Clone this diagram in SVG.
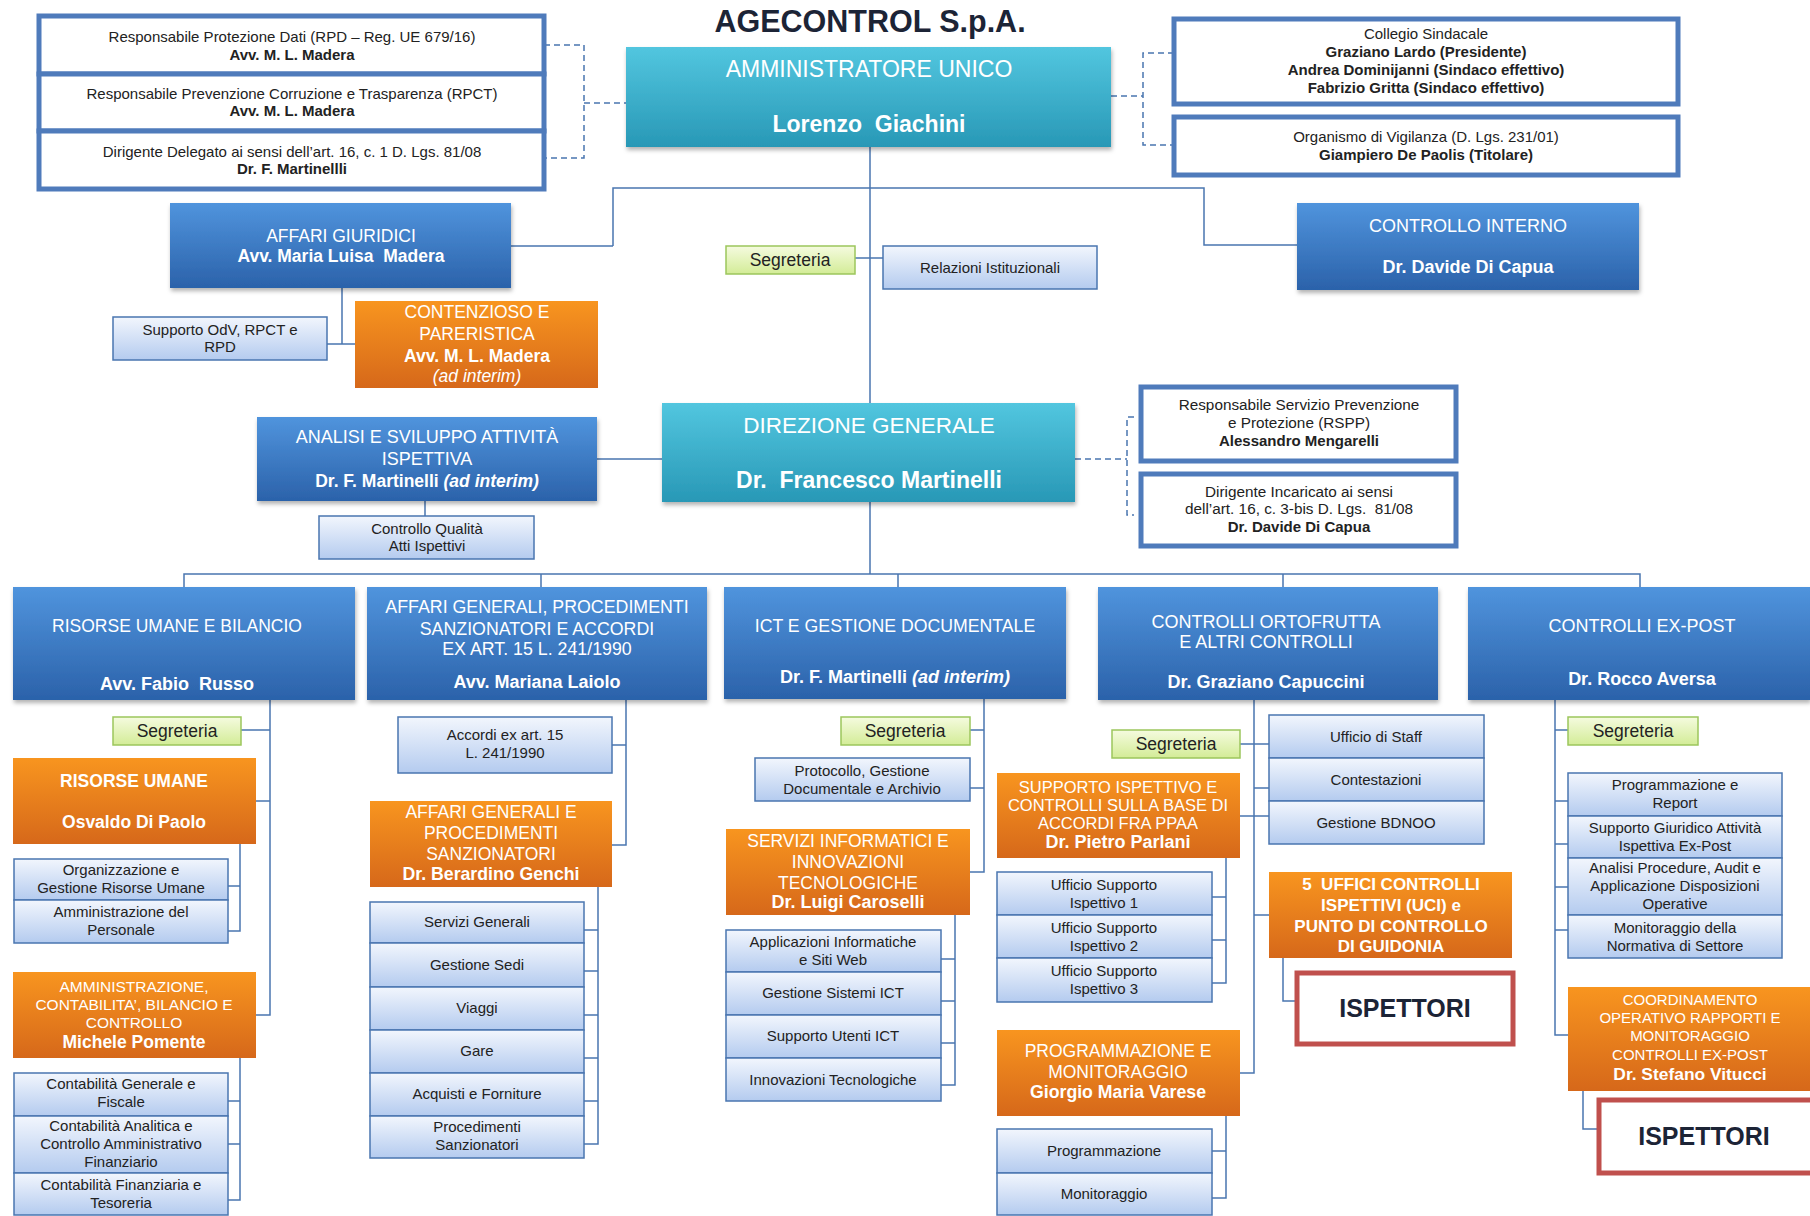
<svg xmlns="http://www.w3.org/2000/svg" width="1810" height="1216" viewBox="0 0 1810 1216" font-family="'Liberation Sans', Arial, sans-serif">
<defs>
<linearGradient id="gBlue" x1="0" y1="0" x2="0" y2="1"><stop offset="0" stop-color="#5094dd"/><stop offset="1" stop-color="#2b62aa"/></linearGradient>
<linearGradient id="gTeal" x1="0" y1="0" x2="0" y2="1"><stop offset="0" stop-color="#52c6df"/><stop offset="1" stop-color="#2898b6"/></linearGradient>
<linearGradient id="gOrange" x1="0" y1="0" x2="0" y2="1"><stop offset="0" stop-color="#f8951f"/><stop offset="1" stop-color="#d6681a"/></linearGradient>
<linearGradient id="gLight" x1="0" y1="0" x2="0" y2="1"><stop offset="0" stop-color="#f2f6fd"/><stop offset="1" stop-color="#b4cbef"/></linearGradient>
<linearGradient id="gGreen" x1="0" y1="0" x2="0" y2="1"><stop offset="0" stop-color="#f5fbdf"/><stop offset="1" stop-color="#d3ec97"/></linearGradient>
<filter id="sh" x="-5%" y="-5%" width="110%" height="120%"><feDropShadow dx="1" dy="3" stdDeviation="2" flood-color="#000" flood-opacity="0.3"/></filter>
</defs>
<style>
.blue{fill:url(#gBlue);filter:url(#sh)}
.teal{fill:url(#gTeal);filter:url(#sh)}
.orange{fill:url(#gOrange)}
.light{fill:url(#gLight);stroke:#4a76b0;stroke-width:1.5}
.green{fill:url(#gGreen);stroke:#9cc65c;stroke-width:1.5}
.frame{fill:#fff;stroke:#4f7bbb;stroke-width:5}
.red{fill:#fff;stroke:#c0504d;stroke-width:5}
.w{fill:#fff;text-anchor:middle}
.d{fill:#222;text-anchor:middle}
.b{font-weight:bold}
.i{font-style:italic}
.conn{fill:none;stroke:#4a76b0;stroke-width:1.5}
.dash{fill:none;stroke:#4a76b0;stroke-width:1.5;stroke-dasharray:6 4}
</style>
<rect width="1810" height="1216" fill="#fff"/>

<g id="connectors">
<path class="dash" d="M544 45H584V158H544M584 103H626"/>
<path class="dash" d="M1111 96H1143M1174 53H1143V145H1174"/>
<path class="dash" d="M1075 459H1127M1134 417H1127V515H1134"/>
<path class="conn" d="M870 147V403M613 246V188H1204V245H1297M613 246H511M855 258H883"/>
<path class="conn" d="M342 288V344M327 344H355"/>
<path class="conn" d="M597 459H662M425 501V516"/>
<path class="conn" d="M870 502V574M184 587V574H1640V587M541 574V587M898 574V587M1283 574V587"/>
<path class="conn" d="M270 700V1015H256M241 730H270M256 801H270M240 844V931H228M228 886H240"/>
<path class="conn" d="M240 1058V1200H228M228 1101H240M228 1144H240"/>
<path class="conn" d="M626 700V845H612M612 745H626"/>
<path class="conn" d="M584 930H598M598 887V1144H584M584 971H598M584 1015H598M584 1058H598M584 1101H598"/>
<path class="conn" d="M984 699V872H970M970 730H984M970 788H984"/>
<path class="conn" d="M941 959H955M955 915V1085H941M941 1001H955M941 1043H955"/>
<path class="conn" d="M1254 700V1073H1240M1240 744H1269M1254 788H1269M1240 816H1269M1254 915H1269"/>
<path class="conn" d="M1212 897H1226M1226 858V983H1212M1212 940H1226"/>
<path class="conn" d="M1212 1151H1226M1226 1116V1198H1212"/>
<path class="conn" d="M1283 958V1001H1295"/>
<path class="conn" d="M1555 700V1035H1568M1555 730H1568M1555 801H1568M1555 844H1568M1555 887H1568M1555 930H1568"/>
<path class="conn" d="M1583 1091V1129H1597"/>
</g>

<text x="870" y="32" font-size="30.5" font-weight="bold" fill="#1c2436" text-anchor="middle">AGECONTROL S.p.A.</text>

<g id="n-rpd">
<rect class="frame" x="39" y="16" width="505" height="58"/>
<text class="d" x="292" y="42" font-size="15">Responsabile Protezione Dati (RPD – Reg. UE 679/16)</text>
<text class="d b" x="292" y="60" font-size="15">Avv. M. L. Madera</text>
</g>
<g id="n-rpct">
<rect class="frame" x="39" y="74" width="505" height="57"/>
<text class="d" x="292" y="99" font-size="15">Responsabile Prevenzione Corruzione e Trasparenza (RPCT)</text>
<text class="d b" x="292" y="116" font-size="15">Avv. M. L. Madera</text>
</g>
<g id="n-dirdel">
<rect class="frame" x="39" y="131" width="505" height="58"/>
<text class="d" x="292" y="157" font-size="15">Dirigente Delegato ai sensi dell’art. 16, c. 1 D. Lgs. 81/08</text>
<text class="d b" x="292" y="174" font-size="15">Dr. F. Martinellli</text>
</g>

<g id="n-au">
<rect class="teal" x="626" y="47" width="485" height="100"/>
<text class="w" x="869" y="77" font-size="23">AMMINISTRATORE UNICO</text>
<text class="w b" x="869" y="132" font-size="23">Lorenzo&#160; Giachini</text>
</g>

<g id="n-collegio">
<rect class="frame" x="1174" y="19" width="504" height="85"/>
<text class="d" x="1426" y="39" font-size="15">Collegio Sindacale</text>
<text class="d b" x="1426" y="57" font-size="15">Graziano Lardo (Presidente)</text>
<text class="d b" x="1426" y="75" font-size="15">Andrea Dominijanni (Sindaco effettivo)</text>
<text class="d b" x="1426" y="93" font-size="15">Fabrizio Gritta (Sindaco effettivo)</text>
</g>
<g id="n-odv">
<rect class="frame" x="1174" y="117" width="504" height="58"/>
<text class="d" x="1426" y="142" font-size="15">Organismo di Vigilanza (D. Lgs. 231/01)</text>
<text class="d b" x="1426" y="160" font-size="15">Giampiero De Paolis (Titolare)</text>
</g>

<g id="n-affgiur">
<rect class="blue" x="170" y="203" width="341" height="85"/>
<text class="w" x="341" y="242" font-size="17.5">AFFARI GIURIDICI</text>
<text class="w b" x="341" y="262" font-size="17.5">Avv. Maria Luisa&#160; Madera</text>
</g>
<g id="n-ci">
<rect class="blue" x="1297" y="203" width="342" height="87"/>
<text class="w" x="1468" y="232" font-size="18">CONTROLLO INTERNO</text>
<text class="w b" x="1468" y="273" font-size="18">Dr. Davide Di Capua</text>
</g>
<g id="n-segr-au">
<rect class="green" x="726" y="246" width="129" height="28"/>
<text class="d" x="790" y="266" font-size="17.5">Segreteria</text>
</g>
<g id="n-relist">
<rect class="light" x="883" y="246" width="214" height="43"/>
<text class="d" x="990" y="273" font-size="15">Relazioni Istituzionali</text>
</g>
<g id="n-supp-odv">
<rect class="light" x="113" y="317" width="214" height="43"/>
<text class="d" x="220" y="335" font-size="15">Supporto OdV, RPCT e</text>
<text class="d" x="220" y="352" font-size="15">RPD</text>
</g>
<g id="n-contenz">
<rect class="orange" x="355" y="301" width="243" height="87"/>
<text class="w" x="477" y="318" font-size="17.5">CONTENZIOSO E</text>
<text class="w" x="477" y="340" font-size="17.5">PARERISTICA</text>
<text class="w b" x="477" y="362" font-size="17.5">Avv. M. L. Madera</text>
<text class="w i" x="477" y="382" font-size="17.5">(ad interim)</text>
</g>

<g id="n-analisi">
<rect class="blue" x="257" y="417" width="340" height="84"/>
<text class="w" x="427" y="443" font-size="18">ANALISI E SVILUPPO ATTIVITÀ</text>
<text class="w" x="427" y="465" font-size="18">ISPETTIVA</text>
<text class="w b" x="427" y="487" font-size="17.5">Dr. F. Martinelli <tspan class="i">(ad interim)</tspan></text>
</g>
<g id="n-cqai">
<rect class="light" x="319" y="516" width="215" height="43"/>
<text class="d" x="427" y="534" font-size="15">Controllo Qualità</text>
<text class="d" x="427" y="551" font-size="15">Atti Ispettivi</text>
</g>
<g id="n-dg">
<rect class="teal" x="662" y="403" width="413" height="99"/>
<text class="w" x="869" y="433" font-size="22.5">DIREZIONE GENERALE</text>
<text class="w b" x="869" y="488" font-size="23">Dr.&#160; Francesco Martinelli</text>
</g>
<g id="n-rspp">
<rect class="frame" x="1141" y="387" width="315" height="74"/>
<text class="d" x="1299" y="410" font-size="15.3">Responsabile Servizio Prevenzione</text>
<text class="d" x="1299" y="428" font-size="15.3">e Protezione (RSPP)</text>
<text class="d b" x="1299" y="446" font-size="15">Alessandro Mengarelli</text>
</g>
<g id="n-dirinc">
<rect class="frame" x="1141" y="474" width="315" height="72"/>
<text class="d" x="1299" y="497" font-size="15.3">Dirigente Incaricato ai sensi</text>
<text class="d" x="1299" y="514" font-size="15.3">dell’art. 16, c. 3-bis D. Lgs.&#160; 81/08</text>
<text class="d b" x="1299" y="532" font-size="15">Dr. Davide Di Capua</text>
</g>

<g id="n-rub">
<rect class="blue" x="13" y="587" width="342" height="113"/>
<text class="w" x="177" y="632" font-size="17.5">RISORSE UMANE E BILANCIO</text>
<text class="w b" x="177" y="690" font-size="18">Avv. Fabio&#160; Russo</text>
</g>
<g id="n-agps">
<rect class="blue" x="367" y="587" width="340" height="113"/>
<text class="w" x="537" y="613" font-size="17.8">AFFARI GENERALI, PROCEDIMENTI</text>
<text class="w" x="537" y="635" font-size="17.8">SANZIONATORI E ACCORDI</text>
<text class="w" x="537" y="655" font-size="17.8">EX ART. 15 L. 241/1990</text>
<text class="w b" x="537" y="688" font-size="18">Avv. Mariana Laiolo</text>
</g>
<g id="n-ict">
<rect class="blue" x="724" y="587" width="342" height="112"/>
<text class="w" x="895" y="632" font-size="17.7">ICT E GESTIONE DOCUMENTALE</text>
<text class="w b" x="895" y="683" font-size="18">Dr. F. Martinelli <tspan class="i">(ad interim)</tspan></text>
</g>
<g id="n-orto">
<rect class="blue" x="1098" y="587" width="340" height="113"/>
<text class="w" x="1266" y="628" font-size="18">CONTROLLI ORTOFRUTTA</text>
<text class="w" x="1266" y="648" font-size="18">E ALTRI CONTROLLI</text>
<text class="w b" x="1266" y="688" font-size="18">Dr. Graziano Capuccini</text>
</g>
<g id="n-expost">
<rect class="blue" x="1468" y="587" width="342" height="113"/>
<text class="w" x="1642" y="632" font-size="18">CONTROLLI EX-POST</text>
<text class="w b" x="1642" y="685" font-size="18">Dr. Rocco Aversa</text>
</g>

<!-- column 1 -->
<g id="n-segr-rub">
<rect class="green" x="113" y="717" width="128" height="28"/>
<text class="d" x="177" y="737" font-size="17.5">Segreteria</text>
</g>
<g id="n-ru">
<rect class="orange" x="13" y="758" width="243" height="86"/>
<text class="w b" x="134" y="787" font-size="17.5">RISORSE UMANE</text>
<text class="w b" x="134" y="828" font-size="17.5">Osvaldo Di Paolo</text>
</g>
<g id="n-org">
<rect class="light" x="14" y="859" width="214" height="41"/>
<text class="d" x="121" y="875" font-size="15">Organizzazione e</text>
<text class="d" x="121" y="893" font-size="15">Gestione Risorse Umane</text>
</g>
<g id="n-ammpers">
<rect class="light" x="14" y="900" width="214" height="43"/>
<text class="d" x="121" y="917" font-size="15">Amministrazione del</text>
<text class="d" x="121" y="935" font-size="15">Personale</text>
</g>
<g id="n-acbc">
<rect class="orange" x="13" y="972" width="243" height="86"/>
<text class="w" x="134" y="992" font-size="15.5">AMMINISTRAZIONE,</text>
<text class="w" x="134" y="1010" font-size="15.5">CONTABILITA’, BILANCIO E</text>
<text class="w" x="134" y="1028" font-size="15.5">CONTROLLO</text>
<text class="w b" x="134" y="1048" font-size="17.5">Michele Pomente</text>
</g>
<g id="n-cgf">
<rect class="light" x="14" y="1073" width="214" height="43"/>
<text class="d" x="121" y="1089" font-size="15">Contabilità Generale e</text>
<text class="d" x="121" y="1107" font-size="15">Fiscale</text>
</g>
<g id="n-cac">
<rect class="light" x="14" y="1116" width="214" height="57"/>
<text class="d" x="121" y="1131" font-size="15">Contabilità Analitica e</text>
<text class="d" x="121" y="1149" font-size="15">Controllo Amministrativo</text>
<text class="d" x="121" y="1167" font-size="15">Finanziario</text>
</g>
<g id="n-cft">
<rect class="light" x="14" y="1173" width="214" height="42"/>
<text class="d" x="121" y="1190" font-size="15">Contabilità Finanziaria e</text>
<text class="d" x="121" y="1208" font-size="15">Tesoreria</text>
</g>

<!-- column 2 -->
<g id="n-accordi">
<rect class="light" x="398" y="717" width="214" height="56"/>
<text class="d" x="505" y="740" font-size="15">Accordi ex art. 15</text>
<text class="d" x="505" y="758" font-size="15">L. 241/1990</text>
</g>
<g id="n-agp">
<rect class="orange" x="370" y="801" width="242" height="86"/>
<text class="w" x="491" y="818" font-size="17.5">AFFARI GENERALI E</text>
<text class="w" x="491" y="839" font-size="17.5">PROCEDIMENTI</text>
<text class="w" x="491" y="860" font-size="17.5">SANZIONATORI</text>
<text class="w b" x="491" y="880" font-size="17.7">Dr. Berardino Genchi</text>
</g>
<g id="n-servgen"><rect class="light" x="370" y="902" width="214" height="41"/><text class="d" x="477" y="927" font-size="15">Servizi Generali</text></g>
<g id="n-gestsedi"><rect class="light" x="370" y="943" width="214" height="44"/><text class="d" x="477" y="970" font-size="15">Gestione Sedi</text></g>
<g id="n-viaggi"><rect class="light" x="370" y="987" width="214" height="43"/><text class="d" x="477" y="1013" font-size="15">Viaggi</text></g>
<g id="n-gare"><rect class="light" x="370" y="1030" width="214" height="43"/><text class="d" x="477" y="1056" font-size="15">Gare</text></g>
<g id="n-acqfor"><rect class="light" x="370" y="1073" width="214" height="43"/><text class="d" x="477" y="1099" font-size="15">Acquisti e Forniture</text></g>
<g id="n-procsanz"><rect class="light" x="370" y="1116" width="214" height="42"/>
<text class="d" x="477" y="1132" font-size="15">Procedimenti</text>
<text class="d" x="477" y="1150" font-size="15">Sanzionatori</text></g>

<!-- column 3 -->
<g id="n-segr-ict">
<rect class="green" x="841" y="717" width="129" height="28"/>
<text class="d" x="905" y="737" font-size="17.5">Segreteria</text>
</g>
<g id="n-protocollo">
<rect class="light" x="755" y="758" width="215" height="43"/>
<text class="d" x="862" y="776" font-size="15">Protocollo, Gestione</text>
<text class="d" x="862" y="794" font-size="15">Documentale e Archivio</text>
</g>
<g id="n-sit">
<rect class="orange" x="726" y="829" width="244" height="86"/>
<text class="w" x="848" y="847" font-size="17.5">SERVIZI INFORMATICI E</text>
<text class="w" x="848" y="868" font-size="17.5">INNOVAZIONI</text>
<text class="w" x="848" y="889" font-size="17.5">TECNOLOGICHE</text>
<text class="w b" x="848" y="908" font-size="18">Dr. Luigi Caroselli</text>
</g>
<g id="n-appinf"><rect class="light" x="726" y="930" width="215" height="42"/>
<text class="d" x="833" y="947" font-size="15">Applicazioni Informatiche</text>
<text class="d" x="833" y="965" font-size="15">e Siti Web</text></g>
<g id="n-gsict"><rect class="light" x="726" y="972" width="215" height="43"/><text class="d" x="833" y="998" font-size="15">Gestione Sistemi ICT</text></g>
<g id="n-suict"><rect class="light" x="726" y="1015" width="215" height="43"/><text class="d" x="833" y="1041" font-size="15">Supporto Utenti ICT</text></g>
<g id="n-innov"><rect class="light" x="726" y="1058" width="215" height="43"/><text class="d" x="833" y="1085" font-size="15">Innovazioni Tecnologiche</text></g>

<!-- column 4 -->
<g id="n-segr-orto">
<rect class="green" x="1112" y="730" width="128" height="28"/>
<text class="d" x="1176" y="750" font-size="17.5">Segreteria</text>
</g>
<g id="n-staff"><rect class="light" x="1269" y="715" width="215" height="43"/><text class="d" x="1376" y="742" font-size="15">Ufficio di Staff</text></g>
<g id="n-contest"><rect class="light" x="1269" y="758" width="215" height="43"/><text class="d" x="1376" y="785" font-size="15">Contestazioni</text></g>
<g id="n-bdnoo"><rect class="light" x="1269" y="801" width="215" height="43"/><text class="d" x="1376" y="828" font-size="15">Gestione BDNOO</text></g>
<g id="n-suppisp">
<rect class="orange" x="997" y="773" width="243" height="85"/>
<text class="w" x="1118" y="793" font-size="16.5">SUPPORTO ISPETTIVO E</text>
<text class="w" x="1118" y="811" font-size="16.5">CONTROLLI SULLA BASE DI</text>
<text class="w" x="1118" y="829" font-size="16.5">ACCORDI FRA PPAA</text>
<text class="w b" x="1118" y="848" font-size="18">Dr. Pietro Parlani</text>
</g>
<g id="n-usi1"><rect class="light" x="997" y="872" width="215" height="43"/>
<text class="d" x="1104" y="890" font-size="15">Ufficio Supporto</text><text class="d" x="1104" y="908" font-size="15">Ispettivo 1</text></g>
<g id="n-usi2"><rect class="light" x="997" y="915" width="215" height="43"/>
<text class="d" x="1104" y="933" font-size="15">Ufficio Supporto</text><text class="d" x="1104" y="951" font-size="15">Ispettivo 2</text></g>
<g id="n-usi3"><rect class="light" x="997" y="958" width="215" height="44"/>
<text class="d" x="1104" y="976" font-size="15">Ufficio Supporto</text><text class="d" x="1104" y="994" font-size="15">Ispettivo 3</text></g>
<g id="n-progmon">
<rect class="orange" x="997" y="1030" width="243" height="86"/>
<text class="w" x="1118" y="1057" font-size="17.5">PROGRAMMAZIONE E</text>
<text class="w" x="1118" y="1078" font-size="17.5">MONITORAGGIO</text>
<text class="w b" x="1118" y="1098" font-size="17.7">Giorgio Maria Varese</text>
</g>
<g id="n-prog"><rect class="light" x="997" y="1129" width="215" height="44"/><text class="d" x="1104" y="1156" font-size="15">Programmazione</text></g>
<g id="n-mon"><rect class="light" x="997" y="1173" width="215" height="42"/><text class="d" x="1104" y="1199" font-size="15">Monitoraggio</text></g>
<g id="n-uci">
<rect class="orange" x="1269" y="872" width="243" height="86"/>
<text class="w b" x="1391" y="890" font-size="17">5&#160; UFFICI CONTROLLI</text>
<text class="w b" x="1391" y="911" font-size="17">ISPETTIVI (UCI) e</text>
<text class="w b" x="1391" y="932" font-size="17">PUNTO DI CONTROLLO</text>
<text class="w b" x="1391" y="952" font-size="17">DI GUIDONIA</text>
</g>
<g id="n-isp1">
<rect class="red" x="1297" y="973" width="216" height="71"/>
<text x="1405" y="1017" font-size="25" font-weight="bold" fill="#1c2436" text-anchor="middle">ISPETTORI</text>
</g>

<!-- column 5 -->
<g id="n-segr-ep">
<rect class="green" x="1568" y="717" width="130" height="28"/>
<text class="d" x="1633" y="737" font-size="17.5">Segreteria</text>
</g>
<g id="n-progrep"><rect class="light" x="1568" y="773" width="214" height="43"/>
<text class="d" x="1675" y="790" font-size="15">Programmazione e</text><text class="d" x="1675" y="808" font-size="15">Report</text></g>
<g id="n-suppgiur"><rect class="light" x="1568" y="816" width="214" height="42"/>
<text class="d" x="1675" y="833" font-size="15">Supporto Giuridico Attività</text><text class="d" x="1675" y="851" font-size="15">Ispettiva Ex-Post</text></g>
<g id="n-analproc"><rect class="light" x="1568" y="858" width="214" height="57"/>
<text class="d" x="1675" y="873" font-size="15">Analisi Procedure, Audit e</text>
<text class="d" x="1675" y="891" font-size="15">Applicazione Disposizioni</text>
<text class="d" x="1675" y="909" font-size="15">Operative</text></g>
<g id="n-monnorm"><rect class="light" x="1568" y="915" width="214" height="43"/>
<text class="d" x="1675" y="933" font-size="15">Monitoraggio della</text><text class="d" x="1675" y="951" font-size="15">Normativa di Settore</text></g>
<g id="n-coord">
<rect class="orange" x="1568" y="987" width="242" height="104"/>
<text class="w" x="1690" y="1005" font-size="15">COORDINAMENTO</text>
<text class="w" x="1690" y="1023" font-size="15">OPERATIVO RAPPORTI E</text>
<text class="w" x="1690" y="1041" font-size="15">MONITORAGGIO</text>
<text class="w" x="1690" y="1060" font-size="15">CONTROLLI EX-POST</text>
<text class="w b" x="1690" y="1080" font-size="17.4">Dr. Stefano Vitucci</text>
</g>
<g id="n-isp2">
<rect class="red" x="1599" y="1100" width="214" height="73"/>
<text x="1704" y="1145" font-size="25" font-weight="bold" fill="#1c2436" text-anchor="middle">ISPETTORI</text>
</g>
</svg>
